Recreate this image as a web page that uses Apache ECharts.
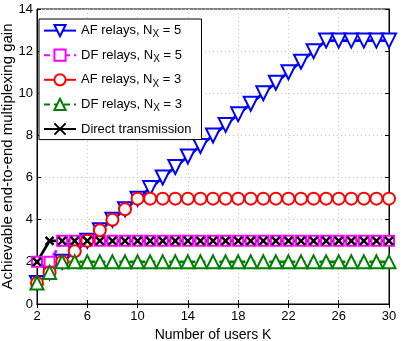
<!DOCTYPE html>
<html>
<head>
<meta charset="utf-8">
<script src="https://cdn.jsdelivr.net/npm/echarts@6/dist/echarts.min.js"></script>
<style>
  html, body { margin: 0; padding: 0; background: #fff; }
  #main { width: 402px; height: 341px; }
</style>
</head>
<body>
<div id="main"></div>
<script>
// number of users K
const users = [2, 3, 4, 5, 6, 7, 8, 9, 10, 11, 12, 13, 14, 15, 16, 17, 18, 19, 20, 21, 22, 23, 24, 25, 26, 27, 28, 29, 30];

const afFive = [1, 1.5, 2, 2.5, 3, 3.5, 4, 4.5, 5, 5.5, 6, 6.5, 7, 7.5, 8, 8.5, 9, 9.5, 10, 10.5, 11, 11.5, 12, 12.5, 12.5, 12.5, 12.5, 12.5, 12.5];
const dfFive = [2, 2, 3, 3, 3, 3, 3, 3, 3, 3, 3, 3, 3, 3, 3, 3, 3, 3, 3, 3, 3, 3, 3, 3, 3, 3, 3, 3, 3];
const afThree = [1, 1.5, 2, 2.5, 3, 3.5, 4, 4.5, 5, 5, 5, 5, 5, 5, 5, 5, 5, 5, 5, 5, 5, 5, 5, 5, 5, 5, 5, 5, 5];
const dfThree = [1, 1.5, 2, 2, 2, 2, 2, 2, 2, 2, 2, 2, 2, 2, 2, 2, 2, 2, 2, 2, 2, 2, 2, 2, 2, 2, 2, 2, 2];
const direct = [2, 3, 3, 3, 3, 3, 3, 3, 3, 3, 3, 3, 3, 3, 3, 3, 3, 3, 3, 3, 3, 3, 3, 3, 3, 3, 3, 3, 3];

const names = ['AF relays, N_X = 5', 'DF relays, N_X = 5', 'AF relays, N_X = 3', 'DF relays, N_X = 3', 'Direct transmission'];

const font = 'Liberation Sans, Arial, sans-serif';
const crossPath = 'path://M0,0L10,10M10,0L0,10';

let chart = echarts.init(document.getElementById('main'));

const mkSeries = (name, data, color, symbol, size, dashed, rotate) => ({
  name: name,
  type: 'line',
  data: data,
  symbol: symbol,
  symbolSize: size,
  symbolRotate: rotate || 0,
  showAllSymbol: true,
  lineStyle: { color: color, width: 2.8, type: dashed ? [6, 4] : 'solid' },
  itemStyle: { color: color, borderColor: color, borderWidth: 2.5 },
  emphasis: { disabled: true },
  animation: false
});

let option = {
  textStyle: { fontFamily: font },
  grid: { left: 37, right: 13, top: 9, bottom: 37, show: true, borderColor: '#000', borderWidth: 1, outerBoundsMode: 'none', containLabel: false },
  legend: {
    data: names,
    orient: 'vertical',
    left: 39,
    top: 19,
    padding: [5, 10, 4, 4],
    itemGap: 9,
    itemWidth: 32,
    itemHeight: 14,
    backgroundColor: '#fff',
    borderColor: '#000',
    borderWidth: 1,
    formatter: function (n) {
      if (n.indexOf('N_X') < 0) return '{a|' + n + '}';
      let parts = n.split('N_X');
      return '{a|' + parts[0] + 'N}{s|X}{a|' + parts[1] + '}';
    },
    textStyle: {
      color: '#000',
      rich: {
        a: { fontSize: 13, fontFamily: font, color: '#000' },
        s: { fontSize: 10, fontFamily: font, color: '#000', padding: [8, 0, 0, 0] }
      }
    }
  },
  xAxis: [
    {
      type: 'category',
      data: users,
      boundaryGap: false,
      name: 'Number of users K',
      nameLocation: 'middle',
      nameGap: 24,
      nameMoveOverlap: false,
      nameTextStyle: { fontSize: 14, color: '#000' },
      axisLine: { lineStyle: { color: '#000' } },
      axisTick: { inside: true, interval: 3, length: 4, lineStyle: { color: '#000' } },
      axisLabel: { interval: 3, fontSize: 13, color: '#000', margin: 6 },
      splitLine: { show: true, interval: 3, lineStyle: { color: '#c8c8c8', type: [1, 3] } }
    },
    {
      type: 'category',
      data: users,
      boundaryGap: false,
      position: 'top',
      axisLine: { lineStyle: { color: '#000' } },
      axisTick: { inside: true, interval: 3, length: 4, lineStyle: { color: '#000' } },
      axisLabel: { show: false },
      splitLine: { show: false }
    }
  ],
  yAxis: [
    {
      type: 'value',
      min: 0,
      max: 14,
      interval: 2,
      name: 'Achievable end-to-end multiplexing gain',
      nameLocation: 'middle',
      nameGap: 22,
      nameMoveOverlap: false,
      nameTextStyle: { fontSize: 15, color: '#000' },
      axisLine: { show: true, lineStyle: { color: '#000' } },
      axisTick: { show: true, inside: true, length: 4, lineStyle: { color: '#000' } },
      axisLabel: { fontSize: 13, color: '#000', margin: 4 },
      splitLine: { show: true, lineStyle: { color: '#c8c8c8', type: [1, 3] } }
    },
    {
      type: 'value',
      min: 0,
      max: 14,
      interval: 2,
      position: 'right',
      axisLine: { show: true, lineStyle: { color: '#000' } },
      axisTick: { show: true, inside: true, length: 4, lineStyle: { color: '#000' } },
      axisLabel: { show: false },
      splitLine: { show: false }
    }
  ],
  series: [
    mkSeries(names[0], afFive, '#0000ff', 'emptyTriangle', 14, false, 180),
    mkSeries(names[1], dfFive, '#ff00ff', 'emptyRect', 10, true),
    mkSeries(names[2], afThree, '#ff0000', 'emptyCircle', 12, false),
    mkSeries(names[3], dfThree, '#008000', 'emptyTriangle', 13, true),
    mkSeries(names[4], direct, '#000000', crossPath, 8, false)
  ]
};

chart.setOption(option);
</script>
</body>
</html>
